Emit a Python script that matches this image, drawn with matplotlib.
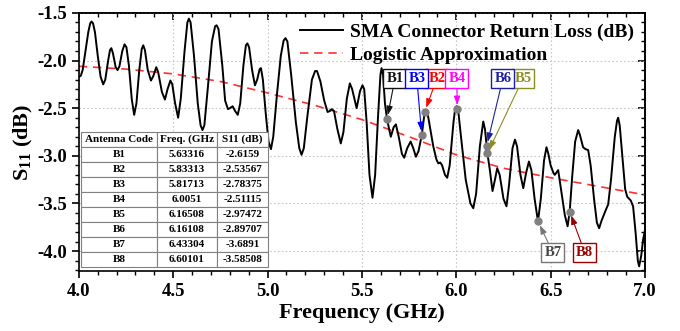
import matplotlib
matplotlib.use("Agg")
import matplotlib.pyplot as plt
from matplotlib.ticker import MultipleLocator, FormatStrFormatter, NullFormatter

plt.rcParams['font.family'] = ['Liberation Serif', 'DejaVu Serif']
plt.rcParams['font.weight'] = 'bold'
plt.rcParams['mathtext.fontset'] = 'custom'
plt.rcParams['mathtext.bf'] = 'Liberation Serif:bold'
plt.rcParams['mathtext.rm'] = 'Liberation Serif:bold'
plt.rcParams['mathtext.default'] = 'bf'

# Measured return loss of the SMA connector
freq_ghz = [
    4.000, 4.010, 4.020, 4.035, 4.050, 4.060, 4.067, 4.075, 4.085, 4.100,
    4.115, 4.129, 4.140, 4.155, 4.165, 4.172, 4.180, 4.195, 4.205, 4.215,
    4.230, 4.242, 4.252, 4.265, 4.280, 4.293, 4.305, 4.320, 4.333, 4.341,
    4.350, 4.365, 4.382, 4.395, 4.410, 4.420, 4.440, 4.456, 4.470, 4.485,
    4.495, 4.510, 4.526, 4.540, 4.560, 4.575, 4.583, 4.592, 4.610, 4.630,
    4.645, 4.655, 4.665, 4.685, 4.705, 4.722, 4.730, 4.740, 4.760, 4.775,
    4.790, 4.800, 4.815, 4.828, 4.842, 4.855, 4.872, 4.885, 4.893, 4.902,
    4.918, 4.933, 4.945, 4.958, 4.965, 4.975, 4.990, 5.005, 5.018, 5.030,
    5.050, 5.070, 5.085, 5.095, 5.105, 5.125, 5.150, 5.168, 5.180, 5.192,
    5.210, 5.235, 5.252, 5.262, 5.280, 5.300, 5.318, 5.330, 5.340, 5.352,
    5.370, 5.388, 5.402, 5.420, 5.436, 5.448, 5.472, 5.490, 5.503, 5.512,
    5.525, 5.540, 5.556, 5.570, 5.585, 5.598, 5.604, 5.612, 5.622, 5.633,
    5.653, 5.668, 5.680, 5.695, 5.712, 5.724, 5.740, 5.758, 5.772, 5.786,
    5.800, 5.817, 5.833, 5.842, 5.852, 5.878, 5.895, 5.905, 5.915, 5.925,
    5.940, 5.952, 5.965, 5.985, 5.995, 6.002, 6.010, 6.025, 6.050, 6.075,
    6.090, 6.105, 6.125, 6.143, 6.152, 6.161, 6.165, 6.178, 6.192, 6.205,
    6.217, 6.230, 6.250, 6.266, 6.280, 6.298, 6.311, 6.322, 6.340, 6.355,
    6.370, 6.385, 6.398, 6.415, 6.433, 6.448, 6.465, 6.478, 6.488, 6.500,
    6.515, 6.522, 6.540, 6.555, 6.575, 6.590, 6.601, 6.615, 6.630, 6.646,
    6.655, 6.672, 6.685, 6.699, 6.712, 6.730, 6.745, 6.757, 6.770, 6.790,
    6.805, 6.820, 6.840, 6.852, 6.858, 6.866, 6.880, 6.895, 6.906, 6.925,
    6.937, 6.950, 6.962, 6.969, 6.980, 6.990, 7.000,
]
s11_db = [
    -2.17, -2.16, -2.10, -1.90, -1.70, -1.61, -1.59, -1.61, -1.70, -1.95,
    -2.17, -2.25, -2.20, -2.00, -1.89, -1.87, -1.92, -2.07, -2.10, -2.06,
    -1.90, -1.83, -1.86, -2.05, -2.40, -2.57, -2.45, -2.10, -1.88, -1.84,
    -1.89, -2.10, -2.21, -2.16, -2.07, -2.12, -2.33, -2.41, -2.30, -2.21,
    -2.25, -2.45, -2.60, -2.40, -1.90, -1.60, -1.56, -1.60, -1.95, -2.45,
    -2.68, -2.73, -2.68, -2.25, -1.80, -1.64, -1.63, -1.67, -2.05, -2.42,
    -2.51, -2.50, -2.48, -2.53, -2.57, -2.45, -2.05, -1.84, -1.82, -1.86,
    -2.10, -2.26, -2.20, -2.09, -2.08, -2.20, -2.55, -2.85, -2.93, -2.80,
    -2.35, -1.95, -1.79, -1.765, -1.80, -2.15, -2.65, -2.92, -2.99, -2.92,
    -2.60, -2.20, -2.11, -2.11, -2.22, -2.42, -2.54, -2.53, -2.51, -2.53,
    -2.72, -2.87, -2.75, -2.40, -2.24, -2.30, -2.50, -2.32, -2.26, -2.30,
    -2.65, -3.20, -3.44, -3.20, -2.60, -2.15, -2.08, -2.15, -2.45, -2.6159,
    -2.80, -2.70, -2.67, -2.80, -2.98, -3.02, -2.92, -2.85, -2.92, -3.01,
    -2.95, -2.78375, -2.53567, -2.52, -2.60, -2.90, -3.04, -3.08, -3.07, -3.10,
    -3.20, -3.23, -3.10, -2.65, -2.49, -2.48, -2.52, -2.80, -3.25, -3.50,
    -3.55, -3.40, -2.90, -2.64, -2.72, -2.89707, -2.97472, -3.15, -3.37, -3.25,
    -3.13, -3.20, -3.45, -3.53, -3.30, -2.92, -2.83, -2.90, -3.20, -3.34,
    -3.18, -3.06, -3.15, -3.45, -3.6891, -3.45, -3.05, -2.91, -2.98, -3.10,
    -3.18, -3.20, -3.15, -3.35, -3.62, -3.74, -3.58508, -3.20, -2.85, -2.73,
    -2.78, -2.91, -2.93, -2.94, -3.10, -3.45, -3.70, -3.76, -3.68, -3.58,
    -3.51, -3.25, -2.80, -2.63, -2.60, -2.68, -3.00, -3.35, -3.43, -3.47,
    -3.53, -3.80, -4.10, -4.16, -4.05, -3.88, -3.78,
]

# Logistic fit of the return loss trend
fit_freq = [4.00, 4.25, 4.50, 4.75, 5.00, 5.25, 5.50, 5.75, 6.00, 6.25, 6.50, 6.75, 7.00]
fit_s11 = [-2.06, -2.09, -2.14, -2.22, -2.34, -2.47, -2.62, -2.80, -2.99, -3.13, -3.23, -3.32, -3.41]

# Antenna sample points
codes = ["B1", "B2", "B3", "B4", "B5", "B6", "B7", "B8"]
code_freq = ["5.63316", "5.83313", "5.81713", "6.0051", "6.16508", "6.16108", "6.43304", "6.60101"]
code_s11 = ["-2.6159", "-2.53567", "-2.78375", "-2.51115", "-2.97472", "-2.89707", "-3.6891", "-3.58508"]

fig = plt.figure(figsize=(6.8, 3.31), dpi=100)
ax = fig.add_axes([0.116, 0.181, 0.8325, 0.780])

ax.plot(freq_ghz, s11_db, color='black', lw=1.4, label='SMA Connector Return Loss (dB)', zorder=3)
ax.plot(fit_freq, fit_s11, color='#FF3030', lw=1.2, ls=(0, (5, 3.5)), label='Logistic Approximation', zorder=2)

pts_x = [float(v) for v in code_freq]
pts_y = [float(v) for v in code_s11]
ax.plot(pts_x, pts_y, 'o', color='#808080', ms=5, zorder=4)

# label boxes: (text colour, edge colour, box position)
styles = {
    "B1": ('#111111', '#111111', (5.675, -2.19)),
    "B3": ('#0000FF', '#0000FF', (5.791, -2.19)),
    "B2": ('#FF0000', '#FF0000', (5.897, -2.19)),
    "B4": ('#FF00FF', '#FF00FF', (6.003, -2.19)),
    "B6": ('#1E1EA0', '#1E1EA0', (6.247, -2.19)),
    "B5": ('#8E8E20', '#8E8E20', (6.353, -2.19)),
    "B7": ('#444444', '#777777', (6.512, -4.016)),
    "B8": ('#990000', '#990000', (6.681, -4.016)),
}
for code, fx, sy in zip(codes, pts_x, pts_y):
    tc, ec, pos = styles[code]
    ax.annotate(code, xy=(fx, sy), xytext=pos, ha='center', va='center',
                fontsize=10.5, fontweight='bold', color=tc, zorder=6,
                bbox=dict(boxstyle='square,pad=0.2', fc='white', ec=ec, lw=1.0),
                arrowprops=dict(arrowstyle='-|>,head_length=0.5,head_width=0.18',
                                color=ec, lw=0.8, shrinkA=0, shrinkB=3))

ax.set_xlim(4.0, 7.0)
ax.set_ylim(-4.21, -1.5)
ax.xaxis.set_major_locator(MultipleLocator(0.5))
ax.xaxis.set_minor_locator(MultipleLocator(0.1))
ax.yaxis.set_major_locator(MultipleLocator(0.5))
ax.yaxis.set_minor_locator(MultipleLocator(0.1))
ax.xaxis.set_major_formatter(FormatStrFormatter('%.1f'))
ax.yaxis.set_major_formatter(FormatStrFormatter('%.1f'))
ax.grid(True, which='major', color='#C8C8C8', ls=(0, (1.5, 2)), lw=0.8)
ax.tick_params(axis='both', which='major', labelsize=13.5, length=5, width=1.2, direction='out')
ax.tick_params(axis='both', which='minor', length=3, width=1.0, direction='out')
for lbl in ax.get_xticklabels() + ax.get_yticklabels():
    lbl.set_fontweight('bold')
for s in ax.spines.values():
    s.set_linewidth(1.2)

# inward ticks on the opposite frame edges
top = ax.secondary_xaxis('top')
right = ax.secondary_yaxis('right')
for sec, axis in ((top, top.xaxis), (right, right.yaxis)):
    axis.set_major_locator(MultipleLocator(0.5))
    axis.set_minor_locator(MultipleLocator(0.1))
    axis.set_major_formatter(NullFormatter())
    sec.tick_params(which='major', direction='in', length=5, width=1.2)
    sec.tick_params(which='minor', direction='in', length=3, width=1.0)
    for s in sec.spines.values():
        s.set_linewidth(1.2)

ax.set_xlabel('Frequency (GHz)', fontsize=16, fontweight='bold', labelpad=2)
ax.set_ylabel('$S_{11}$ (dB)', fontsize=16, fontweight='bold', labelpad=2)

ax.legend(loc='upper right', frameon=False, prop={'size': 14, 'weight': 'bold'},
          handlelength=2.2, handletextpad=0.4, borderaxespad=0.15, labelspacing=0.25)

cell_text = [[c, f, s] for c, f, s in zip(codes, code_freq, code_s11)]
tbl = ax.table(cellText=cell_text, colLabels=["Antenna Code", "Freq. (GHz", "S11 (dB)"],
               cellLoc='center', bbox=[0.0035, 0.0155, 0.331, 0.524],
               colWidths=[76, 59.7, 51.3])
tbl.auto_set_font_size(False)
tbl.set_fontsize(8)
tbl.set_zorder(7)
for (r, c), cell in tbl.get_celld().items():
    cell.set_edgecolor('#808080')
    cell.set_linewidth(0.8)
    cell.set_facecolor('white')
    cell.get_text().set_fontweight('bold')

fig.savefig('out.png', dpi=100)
